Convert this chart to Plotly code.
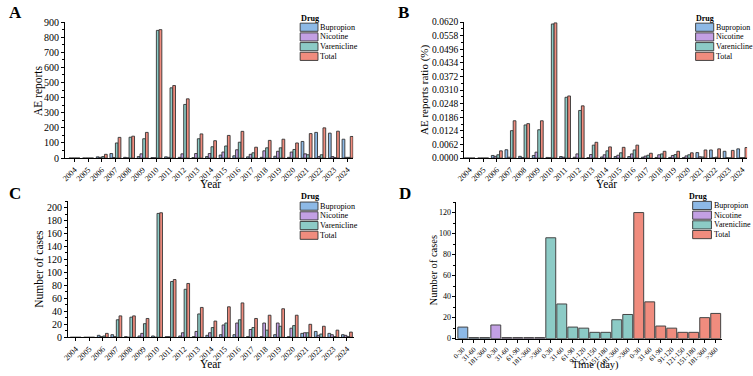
import plotly.graph_objects as go

# ---------------- data ----------------
years = ["2004", "2005", "2006", "2007", "2008", "2009", "2010", "2011", "2012", "2013", "2014",
         "2015", "2016", "2017", "2018", "2019", "2020", "2021", "2022", "2023", "2024"]
drugs = ["Bupropion", "Nicotine", "Varenicline", "Total"]
colors = ["#8DB9E6", "#C3A0E4", "#8CCBC6", "#F08C7E"]

# Panel A: AE reports
ae_bupropion = [0, 0, 8, 30, 5, 10, 3, 8, 5, 3, 10, 20, 15, 8, 5, 12, 5, 110, 170, 165, 125]
ae_nicotine = [0, 0, 5, 4, 2, 28, 2, 5, 28, 30, 30, 40, 55, 25, 48, 45, 40, 28, 10, 10, 5]
ae_varenicline = [0, 0, 10, 100, 138, 128, 845, 465, 355, 128, 75, 80, 105, 35, 68, 68, 57, 22, 22, 3, 5]
ae_total = [0, 0, 25, 137, 145, 170, 850, 480, 392, 160, 115, 150, 177, 72, 117, 125, 100, 162, 200, 178, 143]

# Panel B: AE reports ratio (%)
ratio_bupropion = [0, 0, 0.0012, 0.0038, 0.0008, 0.0012, 0.0003, 0.0007, 0.0004, 0.0002, 0.0005,
                   0.0007, 0.0007, 0.0004, 0.0003, 0.0003, 0.0002, 0.0025, 0.0037, 0.0031, 0.0042]
ratio_nicotine = [0, 0, 0.0008, 0.0004, 0.0002, 0.0027, 0.0002, 0.0004, 0.0019, 0.0016, 0.0015,
                  0.0013, 0.0019, 0.0009, 0.0015, 0.0012, 0.0010, 0.0006, 0.0002, 0.0002, 0.0002]
ratio_varenicline = [0, 0, 0.0015, 0.0125, 0.0151, 0.0129, 0.0611, 0.0277, 0.0217, 0.0059, 0.0033,
                     0.0024, 0.0037, 0.0013, 0.0019, 0.0016, 0.0015, 0.0005, 0.0004, 0.0001, 0.0002]
ratio_total = [0, 0, 0.0033, 0.0170, 0.0157, 0.0170, 0.0616, 0.0283, 0.0238, 0.0072, 0.0051,
               0.0049, 0.0059, 0.0022, 0.0031, 0.0031, 0.0024, 0.0037, 0.0042, 0.0035, 0.0048]

# Panel C: Number of cases
cases_bupropion = [0, 0, 3, 4, 1, 2, 2, 1, 2, 1, 3, 4, 4, 1, 1, 4, 1, 6, 9, 6, 4]
cases_nicotine = [0, 0, 1, 1, 0, 6, 0, 1, 7, 9, 7, 19, 22, 12, 22, 22, 14, 7, 3, 4, 3]
cases_varenicline = [0, 0, 2, 27, 31, 21, 191, 86, 74, 36, 15, 22, 27, 15, 11, 17, 18, 7, 5, 1, 1]
cases_total = [0, 0, 6, 33, 33, 29, 192, 89, 83, 46, 25, 47, 53, 29, 34, 44, 34, 20, 17, 11, 8]

# Panel D: time to onset
time_bupropion_labels = ["0-30", "31-60", "181-360"]
time_bupropion = [11, 1, 1]
time_nicotine_labels = ["0-30", "31-60", "61-90", "181-360", ">360"]
time_nicotine = [13, 1, 1, 1, 1]
time_varenicline_labels = ["0-30", "31-60", "61-90", "91-120", "121-150", "151-180", "181-360", ">360"]
time_varenicline = [96, 33, 11, 10, 6, 6, 18, 23]
time_total_labels = ["0-30", "31-60", "61-90", "91-120", "121-150", "151-180", "181-360", ">360"]
time_total = [120, 35, 12, 10, 6, 6, 20, 24]

# ---------------- layout helpers ----------------
W, H = 753, 376
FONT = "Liberation Serif"


def fx(px):
    return px / W


def fy(py):
    return 1 - py / H


fig = go.Figure()
edge = dict(color="#333333", width=0.9)

panelsABC = [
    ("x", "y", [ae_bupropion, ae_nicotine, ae_varenicline, ae_total]),
    ("x2", "y2", [ratio_bupropion, ratio_nicotine, ratio_varenicline, ratio_total]),
    ("x3", "y3", [cases_bupropion, cases_nicotine, cases_varenicline, cases_total]),
]
for xa, ya, series in panelsABC:
    for name, col, vals in zip(drugs, colors, series):
        fig.add_trace(go.Bar(x=years, y=vals, name=name, marker=dict(color=col, line=edge),
                             xaxis=xa, yaxis=ya, showlegend=False))

# Panel D
d_sets = [(time_bupropion_labels, time_bupropion), (time_nicotine_labels, time_nicotine),
          (time_varenicline_labels, time_varenicline), (time_total_labels, time_total)]
d_ticktext = []
start = 0
for (labs, vals), name, col in zip(d_sets, drugs, colors):
    pos = [start + i for i in range(len(labs))]
    d_ticktext += labs
    start += len(labs)
    fig.add_trace(go.Bar(x=pos, y=vals, name=name, marker=dict(color=col, line=dict(color="#444444", width=1)),
                         width=0.9, offset=-0.45, offsetgroup="d",
                         xaxis="x4", yaxis="y4", showlegend=False))
d_tickvals = list(range(len(d_ticktext)))

axis_common = dict(showline=True, linecolor="black", linewidth=1, ticks="outside", ticklen=3,
                   tickwidth=0.8, tickcolor="black", showgrid=False, zeroline=False,
                   tickfont=dict(family=FONT, size=10, color="black"))
xfont = dict(family=FONT, size=8, color="black")

fig.update_layout(
    width=W, height=H, autosize=False,
    margin=dict(l=0, r=0, t=0, b=0),
    paper_bgcolor="white", plot_bgcolor="white",
    barmode="group", bargap=0.2, bargroupgap=0,
    font=dict(family=FONT, color="black"),
    xaxis=dict(axis_common, domain=[fx(57.5), fx(349)], anchor="y", type="category",
               range=[-0.7, 20.42], tickangle=-45, tickfont=xfont),
    yaxis=dict(axis_common, domain=[fy(157.7), fy(17.3)], anchor="x", range=[0, 902],
               dtick=100, minor=dict(ticks="outside", ticklen=2, dtick=50, tickcolor="black")),
    xaxis2=dict(axis_common, domain=[fx(461), fx(747)], anchor="y2", type="category",
                range=[-0.4, 20.35], tickangle=-45, tickfont=xfont),
    yaxis2=dict(axis_common, domain=[fy(157.7), fy(17.3)], anchor="x2", range=[0, 0.0621],
                tick0=0, dtick=0.0062, tickformat=".4f", tickfont=dict(family=FONT, size=9.5, color="black"),
                minor=dict(ticks="outside", ticklen=2, dtick=0.0031, tickcolor="black")),
    xaxis3=dict(axis_common, domain=[fx(60.7), fx(349.4)], anchor="y3", type="category",
                range=[-0.56, 20.5], tickangle=-45, tickfont=xfont),
    yaxis3=dict(axis_common, domain=[fy(342.3), fy(202)], anchor="x3", range=[0, 210],
                dtick=20, minor=dict(ticks="outside", ticklen=2, dtick=10, tickcolor="black")),
    xaxis4=dict(axis_common, domain=[fx(453.3), fx(721.7)], anchor="y4",
                range=[-0.575, 23.575], tickmode="array", tickvals=d_tickvals, ticktext=d_ticktext,
                tickangle=-45, tickfont=dict(family=FONT, size=7, color="black")),
    yaxis4=dict(axis_common, domain=[fy(343.7), fy(203)], anchor="x4", range=[0, 130],
                dtick=20, tickfont=dict(family=FONT, size=8, color="black"),
                minor=dict(ticks="outside", ticklen=2, dtick=10, tickcolor="black")),
)

ann = []
shapes = []


def text(x, y, s, size, bold=False, angle=0, xanchor="center"):
    ann.append(dict(x=fx(x), y=fy(y), xref="paper", yref="paper", text=("<b>%s</b>" % s) if bold else s,
                    showarrow=False, textangle=angle, xanchor=xanchor, yanchor="middle", borderpad=0,
                    font=dict(family=FONT, size=size, color="black")))


# panel letters
text(8, 8, "A", 17, bold=True)
text(400, 8, "B", 17, bold=True)
text(7, 194, "C", 17, bold=True)
text(401, 194, "D", 17, bold=True)

# axis titles
text(205, 184, "Year", 11.5)
text(31, 88, "AE reports", 11.5, angle=-90)
text(605, 184, "Year", 11.5)
text(421, 88, "AE reports ratio (%)", 11, angle=-90)
text(205, 370, "Year", 11.5)
text(31, 272, "Number of cases", 11.5, angle=-90)
text(594, 370.5, "Time (day)", 10.5)
text(430, 273, "Number of cases", 10.5, angle=-90)


def legend(tx, ty, sx, sy, sw, sh=8.4, step=10.0, size=8.2):
    text(tx, ty, "Drug", size, bold=True, xanchor="left")
    for i, (name, col) in enumerate(zip(drugs, colors)):
        y0 = sy + i * step
        shapes.append(dict(type="rect", xref="paper", yref="paper", x0=fx(sx), x1=fx(sx + sw),
                           y0=fy(y0 + sh), y1=fy(y0), fillcolor=col, line=dict(color="#333333", width=0.9)))
        text(sx + sw + 1.5, y0 + sh / 2, name, size, xanchor="left")


legend(295.5, 13.5, 295.3, 18.7, 18)
legend(694.5, 13.5, 695, 18.7, 18.3, size=8)
legend(295.5, 197.5, 295.3, 203, 18)
legend(687.7, 197, 692, 202.3, 19, size=8)

fig.update_layout(annotations=ann, shapes=shapes)
fig.write_html("out.html", config={"displayModeBar": False},
               post_script="document.body.style.margin='0';document.body.style.overflow='hidden';")
